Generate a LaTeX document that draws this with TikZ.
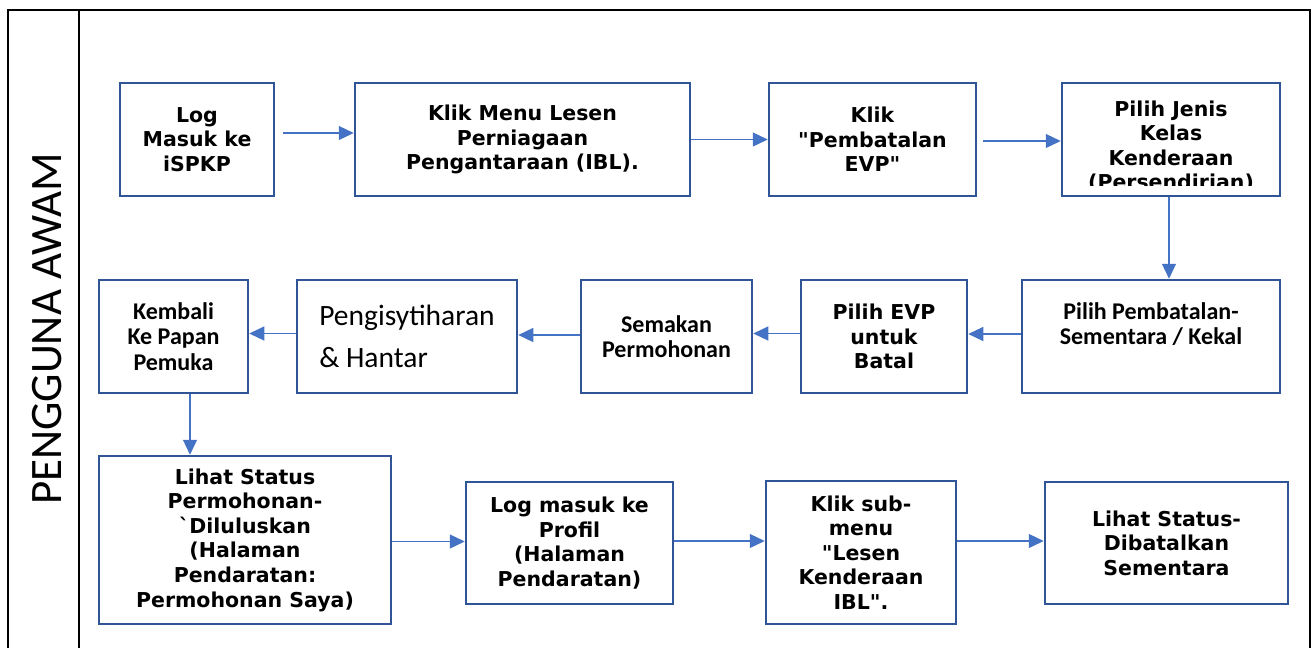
\documentclass[tikz,border=0pt]{standalone}
\usepackage{xcolor}
\usepackage{fontspec}
\usepackage{tikz}
\usetikzlibrary{arrows.meta, positioning}

\newfontfamily\boxfont{DejaVu Sans}
\newfontfamily\calfont{Carlito}

\definecolor{boxblue}{RGB}{47,85,151}
\definecolor{flowblue}{RGB}{68,114,196}

\begin{document}
\begin{tikzpicture}[x=1pt, y=-1pt,
    box/.style={draw=boxblue, line width=2.5pt, rectangle, minimum height=113pt, inner sep=0pt, align=center,
                font=\boxfont\bfseries\fontsize{20.5}{24.6}\selectfont},
    calbox/.style={box, font=\calfont\bfseries\fontsize{24}{25.5}\selectfont},
    flow/.style={draw=flowblue, line width=1.2pt, -{Triangle[length=15pt, width=14pt]}}]
    \useasboundingbox (0,0) rectangle (1312,648);

    % lane frame
    \draw[line width=2pt] (7.5,648) -- (7.5,10) -- (1310,10) -- (1310,648);
    \draw[line width=2pt] (79,10) -- (79,648);
    \node[rotate=90, inner sep=0pt, font=\calfont\fontsize{45}{50}\selectfont] (lane) at (47,329) {PENGGUNA AWAM};

    % first row
    \node[box, minimum width=154pt] (log) at (197,139.5) {Log\\Masuk ke\\iSPKP};
    \node[box, minimum width=335pt] (menu) at (522.5,139.5) {Klik Menu Lesen\\Perniagaan\\Pengantaraan (IBL).};
    \node[box, minimum width=207pt] (klik) at (872.5,139.5) {Klik\\"Pembatalan\\EVP"};
    \node[box, minimum width=218pt] (jenis) at (1171,139.5) {};
    \begin{scope}
        \clip (jenis.north west) rectangle ([yshift=12pt]jenis.south east);
        \node[anchor=north, inner sep=0pt, align=center, font=\boxfont\bfseries\fontsize{20.5}{24.6}\selectfont]
            (jenistext) at ([yshift=-18.5pt]jenis.north) {Pilih Jenis\\Kelas\\Kenderaan\\(Persendirian)};
    \end{scope}

    % second row
    \node[calbox, minimum width=258pt] (batal) at (1151,336.5) {Pilih Pembatalan-\\Sementara / Kekal\\~};
    \node[box, minimum width=166pt] (evp) at (884,336.5) {Pilih EVP\\untuk\\Batal};
    \node[calbox, minimum width=171pt] (semakan) at (666.5,336.5) {Semakan\\Permohonan};
    \node[box, minimum width=220pt, align=left, font=\calfont\fontsize{29.5}{42}\selectfont] (hantar) at (407,336.5) {Pengisytiharan\\\& Hantar};
    \node[calbox, minimum width=149pt] (kembali) at (173.5,336.5) {Kembali\\Ke Papan\\Pemuka};

    % third row
    \node[box, minimum width=292pt, minimum height=168pt] (status) at (245,540) {Lihat Status\\Permohonan-\\\textasciigrave Diluluskan\\(Halaman\\Pendaratan:\\Permohonan Saya)};
    \node[box, minimum width=207pt, minimum height=122pt] (profil) at (569.5,543) {Log masuk ke\\Profil\\(Halaman\\Pendaratan)};
    \node[box, minimum width=190pt, minimum height=143pt] (submenu) at (861,552.5) {Klik sub-\\menu\\"Lesen\\Kenderaan\\IBL".};
    \node[box, minimum width=243pt, minimum height=122pt] (dibatal) at (1166.5,543) {Lihat Status-\\Dibatalkan\\Sementara};

    \draw[flow] ([xshift=8pt, yshift=6.5pt]log.east) -- ([yshift=6.5pt]menu.west);
    \draw[flow] (menu.east) -- (klik.west);
    \draw[flow] ([xshift=6pt, yshift=-1.5pt]klik.east) -- ([yshift=-1.5pt]jenis.west);
    \draw[flow] ([xshift=-2pt]jenis.south) -- ([xshift=-2pt]jenis.south |- batal.north);
    \draw[flow] ([yshift=2.5pt]batal.west) -- ([yshift=2.5pt]evp.east);
    \draw[flow] ([yshift=3pt]evp.west) -- ([yshift=3pt]semakan.east);
    \draw[flow] ([yshift=1.5pt]semakan.west) -- ([yshift=1.5pt]hantar.east);
    \draw[flow] ([yshift=3pt]hantar.west) -- ([yshift=3pt]kembali.east);
    \draw[flow] ([xshift=16.5pt]kembali.south) -- ([xshift=16.5pt]kembali.south |- status.north);
    \draw[flow] ([yshift=-1.5pt]status.east) -- ([yshift=-1.5pt]status.east -| profil.west);
    \draw[flow] ([yshift=2pt]profil.east) -- ([yshift=2pt]profil.east -| submenu.west);
    \draw[flow] ([yshift=2pt]submenu.east |- dibatal.west) -- ([yshift=2pt]dibatal.west);
\end{tikzpicture}
\end{document}
